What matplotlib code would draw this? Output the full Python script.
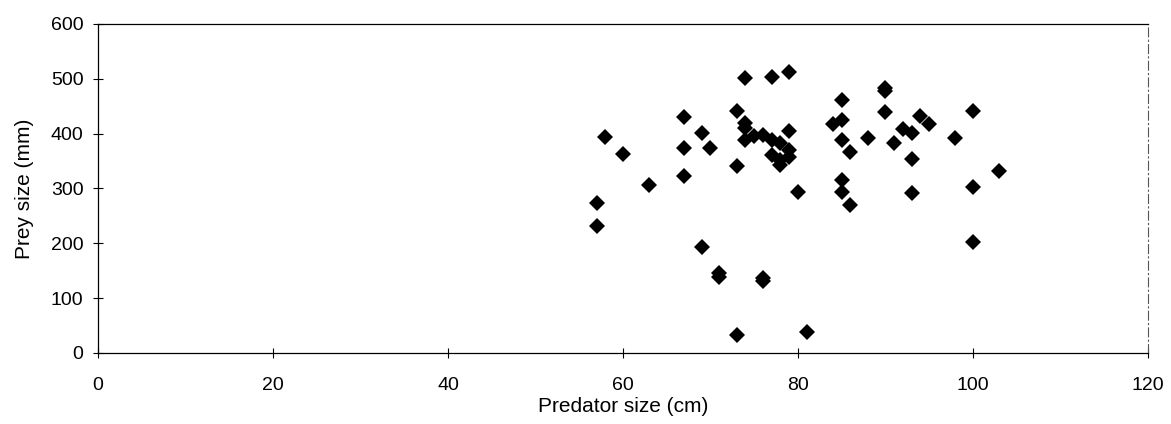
"""
Prey size vs predator size scatter (diamond markers, plain Excel-like frame).
"""
import matplotlib
matplotlib.use("Agg")
import matplotlib.pyplot as plt

plt.rcParams.update({
    "font.family": ["Liberation Sans", "DejaVu Sans"], "font.size": 14,
})

# predator size (cm) and prey size (mm)
predator_cm = [57, 57, 58, 60, 63, 67, 67, 67, 69, 70, 69, 71, 71, 76, 76,
               73, 81, 73, 73, 74, 77, 79, 74, 74, 74, 75, 76, 77, 78, 79,
               79, 78, 77, 78, 79, 80, 85, 84, 85, 85, 86, 88, 85, 85, 86,
               90, 90, 90, 91, 92, 93, 94, 95, 93, 93, 98, 100, 100, 100, 103]
prey_mm = [273, 232, 393, 363, 306, 430, 374, 322, 401, 374, 194, 145, 139, 136, 131,
           33, 39, 442, 341, 501, 504, 513, 419, 410, 389, 395, 398, 389, 383, 370,
           358, 352, 361, 343, 404, 293, 462, 417, 424, 389, 366, 392, 315, 293, 269,
           483, 477, 439, 383, 408, 402, 432, 417, 353, 291, 392, 442, 302, 203, 332]

x_ticks = [0, 20, 40, 60, 80, 100, 120]
y_ticks = [0, 100, 200, 300, 400, 500, 600]

fig = plt.figure(figsize=(11.71, 4.24), dpi=100)
ax = fig.add_axes([0.0837, 0.1675, 0.8966, 0.776])

ax.plot(predator_cm, prey_mm, linestyle="none", marker="D", markersize=8.5,
        color="black", markeredgewidth=0)

ax.set_xlim(0, 120)
ax.set_ylim(0, 600)
ax.set_xticks(x_ticks)
ax.set_yticks(y_ticks)
ax.tick_params(axis="both", direction="inout", length=7, width=0.8, labelsize=14)
ax.tick_params(axis="x", pad=14)
ax.tick_params(axis="y", pad=7)

for side in ("left", "bottom", "top"):
    ax.spines[side].set_linewidth(0.9)
    ax.spines[side].set_color("black")
ax.spines["right"].set_linewidth(0.8)
ax.spines["right"].set_color("#555555")
ax.spines["right"].set_linestyle((0, (8, 3, 1, 3)))

ax.set_xlabel("Predator size (cm)", fontsize=15, labelpad=2)
ax.set_ylabel("Prey size (mm)", fontsize=15, labelpad=12)

fig.savefig("out.png", dpi=100)
